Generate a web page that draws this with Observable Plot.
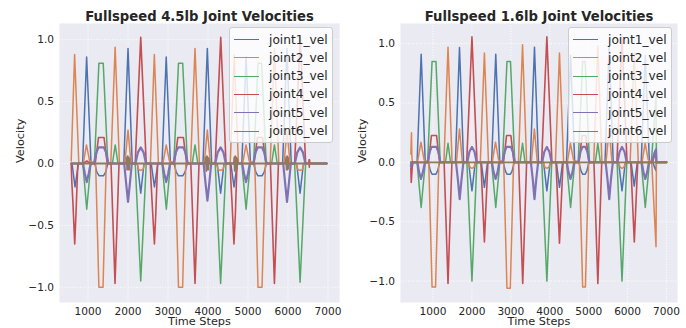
<!DOCTYPE html>
<html><head><meta charset="utf-8">
<script src="https://cdn.jsdelivr.net/npm/d3@7"></script>
<script src="https://cdn.jsdelivr.net/npm/@observablehq/plot@0.6"></script>
<style>
html,body{margin:0;padding:0;background:#fff;}
#wrap{position:relative;width:686px;height:328px;overflow:hidden;font-family:"DejaVu Sans",sans-serif;}
.panel{position:absolute;top:0;}
.legend{position:absolute;background:rgba(255,255,255,0.8);border:1px solid #cccccc;border-radius:3px;box-sizing:border-box;width:104px;height:116px;}
.legend .h{position:absolute;left:4px;width:25px;height:0;border-top:1.8px solid;}
.legend .t{position:absolute;left:39px;font-size:12.2px;line-height:14px;color:#262626;white-space:nowrap;}
</style></head>
<body><div id="wrap"></div>
<script>
const joints = ["joint1_vel","joint2_vel","joint3_vel","joint4_vel","joint5_vel","joint6_vel"];
const colors = ["#4C72B0","#DD8452","#55A868","#C44E52","#8172B3","#937860"];
const widths = [1.5,1.5,1.5,1.6,2.2,1.8];
const titles = ["Fullspeed 4.5lb Joint Velocities","Fullspeed 1.6lb Joint Velocities"];
const xTicks = [1000,2000,3000,4000,5000,6000,7000];
const xTickLabels = ["1000","2000","3000","4000","5000","6000","7000"];
const yTicks = [-1,-0.5,0,0.5,1];
const yTickLabels = ["\u22121.0","\u22120.5","0.0","0.5","1.0"];
const xLabel = "Time Steps";
const yLabel = "Velocity";

// ---- 4.5lb panel: [time step, velocity] vertices ----
const j1_45 = [[580,0],[600,0],[675,-0.19],[760,0],[865,0],[965,0.86],[1075,0],[1170,0],[1220,-0.07],[1280,-0.1],[1385,-0.1],[1440,-0.07],[1495,0],[1895,0],[2000,0.93],[2105,0],[2235,0],[2318,-0.24],[2400,0],[2580,0],[2660,-0.19],[2745,0],[2850,0],[2955,0.86],[3060,0],[3150,0],[3205,-0.07],[3263,-0.1],[3368,-0.1],[3425,-0.07],[3480,0],[3875,0],[3983,0.93],[4090,0],[4230,0],[4315,-0.24],[4400,0],[4570,0],[4650,-0.19],[4730,0],[4845,0],[4952,0.86],[5060,0],[5140,0],[5195,-0.07],[5250,-0.1],[5350,-0.1],[5405,-0.07],[5460,0],[5865,0],[5972,0.93],[6080,0],[6215,0],[6302,-0.24],[6385,0],[6970,0]];
const j2_45 = [[580,0.02],[665,0.88],[770,0],[880,0],[962,0.15],[1040,0.02],[1190,0],[1272,-1.0],[1375,-1.0],[1455,0],[1570,0],[1678,0.94],[1785,0],[1920,0],[2000,0.27],[2075,0],[2220,0],[2270,-0.05],[2318,-0.055],[2370,-0.05],[2420,0],[2560,0],[2658,0.88],[2760,0],[2870,0],[2955,0.15],[3035,0.02],[3180,0],[3262,-1.0],[3365,-1.0],[3445,0],[3565,0],[3675,0.93],[3785,0],[3905,0],[3983,0.27],[4060,0],[4205,0],[4255,-0.05],[4315,-0.055],[4370,-0.05],[4420,0],[4555,0],[4655,0.88],[4760,0],[4865,0],[4950,0.15],[5030,0.02],[5170,0],[5250,-1.0],[5350,-1.0],[5435,0],[5555,0],[5660,0.93],[5770,0],[5900,0],[5975,0.27],[6050,0],[6200,0],[6250,-0.05],[6302,-0.055],[6355,-0.05],[6405,0],[6970,0]];
const j3_45 = [[580,0],[870,0],[968,-0.37],[1070,0],[1160,0],[1272,0.81],[1380,0.81],[1495,0],[1610,0],[1680,0.15],[1750,0],[2180,0],[2318,-0.95],[2455,0],[2850,0],[2958,-0.37],[3060,0],[3145,0],[3262,0.81],[3367,0.81],[3485,0],[3605,0],[3675,0.15],[3745,0],[4180,0],[4315,-0.97],[4450,0],[4845,0],[4952,-0.37],[5055,0],[5140,0],[5250,0.81],[5340,0.81],[5455,0],[5590,0],[5660,0.15],[5730,0],[6165,0],[6302,-0.96],[6440,0],[6970,0]];
const j4_45 = [[580,0],[595,-0.15],[620,-0.3],[668,-0.65],[700,-0.4],[745,0],[880,0],[970,0.02],[1060,0],[1180,0],[1262,0.21],[1400,0.21],[1480,0],[1575,0],[1675,-0.97],[1775,0],[2180,0],[2318,1.02],[2455,0],[2555,0],[2575,-0.15],[2600,-0.3],[2660,-0.65],[2695,-0.4],[2740,0],[3160,0],[3245,0.21],[3385,0.21],[3465,0],[3570,0],[3675,-0.97],[3775,0],[4180,0],[4318,1.02],[4450,0],[4555,0],[4572,-0.15],[4598,-0.3],[4648,-0.65],[4685,-0.4],[4725,0],[5150,0],[5235,0.21],[5365,0.21],[5445,0],[5560,0],[5660,-0.97],[5760,0],[6165,0],[6305,1.02],[6440,0],[6520,0],[6526,0.03],[6532,-0.03],[6538,0.03],[6544,0],[6970,0]];
const j5_45 = [[580,0],[875,0],[920,-0.08],[968,-0.15],[1018,-0.08],[1065,0],[1150,0],[1210,0.09],[1265,0.13],[1395,0.13],[1450,0.09],[1510,0],[1905,0],[1950,-0.15],[2000,-0.31],[2050,-0.15],[2095,0],[2185,0],[2248,0.09],[2318,0.13],[2388,0.09],[2450,0],[2860,0],[2905,-0.08],[2955,-0.15],[3005,-0.08],[3050,0],[3135,0],[3195,0.09],[3255,0.13],[3380,0.13],[3435,0.09],[3495,0],[3890,0],[3935,-0.15],[3985,-0.3],[4035,-0.15],[4080,0],[4180,0],[4242,0.09],[4315,0.13],[4385,0.09],[4445,0],[4855,0],[4900,-0.08],[4950,-0.15],[5000,-0.08],[5045,0],[5130,0],[5190,0.09],[5245,0.13],[5350,0.13],[5405,0.09],[5465,0],[5880,0],[5925,-0.15],[5975,-0.31],[6025,-0.15],[6070,0],[6170,0],[6232,0.09],[6302,0.13],[6372,0.09],[6435,0],[6970,0]];
const j6_45 = [[580,0],[1955,0],[1967,0.05],[1979,-0.05],[1991,0.06],[2003,-0.05],[2015,0.05],[2027,-0.05],[2039,0.04],[2051,0],[3935,0],[3947,0.05],[3959,-0.06],[3971,0.06],[3983,-0.05],[3995,0.05],[4007,-0.05],[4019,0.04],[4031,0],[4645,0],[4657,0.05],[4669,-0.06],[4681,0.06],[4693,-0.05],[4705,0.05],[4717,-0.05],[4729,0.04],[4741,0],[5940,0],[5952,0.05],[5964,-0.05],[5976,0.06],[5988,-0.05],[6000,0.05],[6012,-0.04],[6024,0],[6970,0]];

// ---- 1.6lb panel: [time step, velocity] vertices ----
const j1_16 = [[430,0],[440,-0.05],[460,-0.05],[480,0],[590,0],[695,0.91],[800,0],[880,0],[930,-0.07],[975,-0.1],[1075,-0.1],[1120,-0.07],[1170,0],[1575,0],[1680,0.966],[1785,0],[1915,0],[2000,-0.24],[2085,0],[2240,0],[2320,-0.21],[2400,0],[2505,0],[2612,0.91],[2715,0],[2805,0],[2855,-0.07],[2900,-0.1],[2990,-0.1],[3035,-0.07],[3085,0],[3500,0],[3607,0.97],[3710,0],[3840,0],[3925,-0.24],[4010,0],[4170,0],[4249,-0.21],[4330,0],[4430,0],[4535,0.9],[4640,0],[4750,0],[4800,-0.07],[4845,-0.1],[4910,-0.1],[4955,-0.07],[5005,0],[5420,0],[5525,0.97],[5630,0],[5770,0],[5856,-0.24],[5940,0],[6090,0],[6170,-0.2],[6250,0],[6350,0],[6454,0.9],[6560,0],[6650,0],[6700,-0.05],[6730,-0.07],[6740,0],[7000,0]];
const j2_16 = [[430,0.07],[446,0.25],[456,0.05],[470,0],[600,0],[690,0.17],[770,0.02],[890,0],[975,-1.05],[1065,-1.05],[1150,0],[1280,0],[1385,0.97],[1490,0],[1600,0],[1680,0.28],[1755,0],[1900,0],[1950,-0.04],[2000,-0.05],[2050,-0.04],[2100,0],[2215,0],[2320,0.92],[2425,0],[2520,0],[2605,0.17],[2685,0.02],[2815,0],[2900,-1.06],[2985,-1.06],[3070,0],[3195,0],[3300,0.99],[3405,0],[3525,0],[3605,0.28],[3680,0],[3825,0],[3875,-0.04],[3925,-0.05],[3975,-0.04],[4025,0],[4145,0],[4249,0.92],[4355,0],[4450,0],[4530,0.16],[4610,0.02],[4760,0],[4845,-1.05],[4915,-1.05],[5000,0],[5130,0],[5235,0.98],[5340,0],[5445,0],[5525,0.28],[5600,0],[5760,0],[5810,-0.04],[5856,-0.05],[5905,-0.04],[5950,0],[6065,0],[6170,0.92],[6275,0],[6370,0],[6450,0.16],[6530,0.02],[6620,0],[6730,-0.71],[6740,0],[7000,0]];
const j3_16 = [[430,0],[590,0],[695,-0.38],[800,0],[860,0],[975,0.85],[1075,0.85],[1185,0],[1320,0],[1385,0.16],[1450,0],[1870,0],[2000,-1.0],[2125,0],[2505,0],[2612,-0.38],[2715,0],[2785,0],[2900,0.85],[2990,0.85],[3100,0],[3235,0],[3300,0.16],[3365,0],[3795,0],[3925,-1.0],[4050,0],[4430,0],[4535,-0.38],[4640,0],[4730,0],[4845,0.85],[4910,0.85],[5020,0],[5170,0],[5235,0.16],[5300,0],[5730,0],[5856,-1.0],[5980,0],[6350,0],[6454,-0.38],[6560,0],[6610,0],[6730,0.55],[6740,0],[7000,0]];
const j4_16 = [[430,-0.05],[440,-0.17],[450,-0.12],[465,-0.04],[480,0],[880,0],[960,0.226],[1090,0.226],[1170,0],[1285,0],[1385,-1.02],[1485,0],[1865,0],[2000,1.056],[2130,0],[2230,0],[2320,-0.67],[2410,0],[2810,0],[2890,0.226],[3000,0.226],[3080,0],[3200,0],[3305,-1.02],[3405,0],[3790,0],[3925,1.056],[4055,0],[4160,0],[4249,-0.68],[4340,0],[4750,0],[4830,0.226],[4925,0.226],[5005,0],[5135,0],[5235,-1.02],[5335,0],[5725,0],[5856,1.056],[5985,0],[6080,0],[6172,-0.67],[6260,0],[6640,0],[6730,0.1],[6740,0],[7000,0]];
const j5_16 = [[430,-0.03],[470,0],[600,0],[640,-0.08],[690,-0.14],[740,-0.08],[790,0],[860,0],[915,0.09],[965,0.13],[1085,0.13],[1135,0.09],[1190,0],[1590,0],[1640,-0.15],[1685,-0.31],[1730,-0.15],[1780,0],[1880,0],[1935,0.09],[2000,0.13],[2065,0.09],[2120,0],[2515,0],[2555,-0.08],[2607,-0.14],[2660,-0.08],[2700,0],[2785,0],[2840,0.09],[2890,0.13],[3000,0.13],[3050,0.09],[3105,0],[3515,0],[3565,-0.15],[3607,-0.31],[3650,-0.15],[3700,0],[3805,0],[3860,0.09],[3925,0.13],[3990,0.09],[4045,0],[4440,0],[4480,-0.08],[4532,-0.14],[4585,-0.08],[4625,0],[4735,0],[4790,0.09],[4840,0.13],[4915,0.13],[4965,0.09],[5020,0],[5435,0],[5485,-0.15],[5528,-0.31],[5570,-0.15],[5620,0],[5740,0],[5795,0.09],[5856,0.13],[5920,0.09],[5975,0],[6365,0],[6405,-0.08],[6454,-0.14],[6505,-0.08],[6545,0],[6620,0],[6680,0.07],[6730,0.11],[6740,0],[7000,0]];
const j6_16 = [[430,0],[7000,0]];

const panels = [
  {series:[j1_45,j2_45,j3_45,j4_45,j5_45,j6_45], left:0, ml:59, mr:4, xd:[287,7287], yd:[-1.123,1.131], vdx:-39, legendLeft:229},
  {series:[j1_16,j2_16,j3_16,j4_16,j5_16,j6_16], left:343, ml:57, mr:9, xd:[164,7282], yd:[-1.18,1.169], vdx:-38.5, legendLeft:568}
];

const wrap = document.getElementById("wrap");
panels.forEach((p, k) => {
  const lines = p.series.map((s, i) =>
    Plot.line(s, {x: d => d[0], y: d => d[1], stroke: colors[i], strokeWidth: widths[i]}));
  const chart = Plot.plot({
    width: 343, height: 328,
    marginLeft: p.ml, marginRight: p.mr, marginTop: 23, marginBottom: 26,
    x: {domain: p.xd},
    y: {domain: p.yd},
    style: {fontFamily: "DejaVu Sans", fontSize: "10.6px", color: "#262626", background: "transparent", overflow: "visible"},
    marks: [
      Plot.frame({fill: "#EAEAF2", stroke: null}),
      Plot.gridX(xTicks, {stroke: "#ffffff", strokeOpacity: 1, strokeWidth: 1, strokeDasharray: "1,1.65"}),
      Plot.gridY(yTicks, {stroke: "#ffffff", strokeOpacity: 1, strokeWidth: 1, strokeDasharray: "1,1.65"}),
      Plot.axisX(xTicks, {tickSize: 0, tickPadding: 4.5, label: null, tickFormat: d => xTickLabels[xTicks.indexOf(d)]}),
      Plot.axisY(yTicks, {tickSize: 0, tickPadding: 5.5, label: null, tickFormat: d => yTickLabels[yTicks.indexOf(d)]}),
      ...lines,
      Plot.text([titles[k]], {frameAnchor: "top", dy: -3, lineAnchor: "bottom", fontWeight: "bold", fontSize: 13.2, fill: "#262626"}),
      Plot.text([yLabel], {frameAnchor: "left", dx: p.vdx, rotate: -90, fontSize: 11.3, fill: "#262626"}),
      Plot.text([xLabel], {frameAnchor: "bottom", dy: 22.8, lineAnchor: "bottom", fontSize: 11.3, fill: "#262626"})
    ]
  });
  const div = document.createElement("div");
  div.className = "panel";
  div.style.left = p.left + "px";
  div.appendChild(chart);
  wrap.appendChild(div);

  const lg = document.createElement("div");
  lg.className = "legend";
  lg.style.left = p.legendLeft + "px";
  lg.style.top = "27px";
  joints.forEach((name, i) => {
    const c = 12 + i * 18.33;
    const h = document.createElement("div");
    h.className = "h";
    h.style.borderTopColor = colors[i];
    h.style.top = (c - 0.9) + "px";
    const t = document.createElement("div");
    t.className = "t";
    t.style.top = (c - 7.5) + "px";
    t.textContent = name;
    lg.appendChild(h);
    lg.appendChild(t);
  });
  wrap.appendChild(lg);
});
</script></body></html>
